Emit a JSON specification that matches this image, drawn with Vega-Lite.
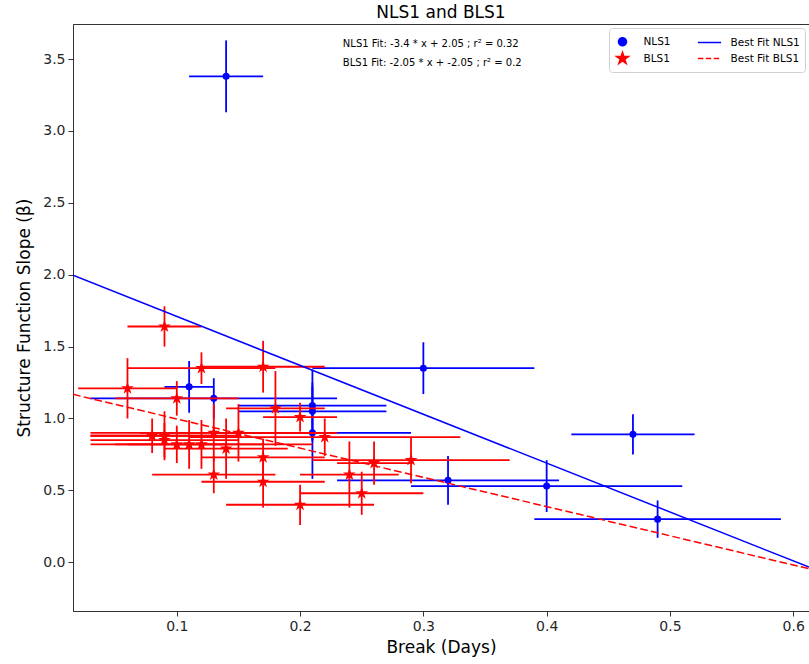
{
  "$schema": "https://vega.github.io/schema/vega-lite/v6.json",
  "width": 736,
  "height": 587,
  "autosize": {"type": "none"},
  "padding": {"left": 73, "top": 24, "right": 0, "bottom": 53},
  "background": "white",
  "title": {"text": "NLS1 and BLS1", "font": "DejaVu Sans", "fontSize": 17, "fontWeight": "normal", "color": "#000000", "anchor": "middle", "offset": 2},
  "config": {
    "view": {"stroke": "#333333", "strokeWidth": 1},
    "axis": {"labelFont": "DejaVu Sans", "labelFontSize": 14, "labelColor": "#262626", "titleFont": "DejaVu Sans", "titleFontSize": 17, "titleFontWeight": "normal", "titleColor": "#000000", "domainColor": "#333333", "tickColor": "#333333", "tickSize": 5, "labelPadding": 3, "grid": false}
  },
  "datasets": {
    "nls1": [
      {"grp": "NLS1", "x": 0.14, "y": 3.38, "xerr": 0.03, "yerr": 0.25},
      {"grp": "NLS1", "x": 0.11, "y": 1.22, "xerr": 0.02, "yerr": 0.18},
      {"grp": "NLS1", "x": 0.13, "y": 1.14, "xerr": 0.10, "yerr": 0.14},
      {"grp": "NLS1", "x": 0.21, "y": 1.09, "xerr": 0.06, "yerr": 0.25},
      {"grp": "NLS1", "x": 0.21, "y": 1.05, "xerr": 0.06, "yerr": 0.20},
      {"grp": "NLS1", "x": 0.21, "y": 0.90, "xerr": 0.08, "yerr": 0.32},
      {"grp": "NLS1", "x": 0.30, "y": 1.35, "xerr": 0.09, "yerr": 0.18},
      {"grp": "NLS1", "x": 0.32, "y": 0.57, "xerr": 0.09, "yerr": 0.17},
      {"grp": "NLS1", "x": 0.40, "y": 0.53, "xerr": 0.11, "yerr": 0.18},
      {"grp": "NLS1", "x": 0.47, "y": 0.89, "xerr": 0.05, "yerr": 0.14},
      {"grp": "NLS1", "x": 0.49, "y": 0.30, "xerr": 0.10, "yerr": 0.13}
    ],
    "bls1": [
      {"grp": "BLS1", "x": 0.09, "y": 1.64, "xerr": 0.03, "yerr": 0.14},
      {"grp": "BLS1", "x": 0.06, "y": 1.21, "xerr": 0.04, "yerr": 0.21},
      {"grp": "BLS1", "x": 0.12, "y": 1.35, "xerr": 0.06, "yerr": 0.11},
      {"grp": "BLS1", "x": 0.10, "y": 1.14, "xerr": 0.05, "yerr": 0.12},
      {"grp": "BLS1", "x": 0.17, "y": 1.36, "xerr": 0.05, "yerr": 0.18},
      {"grp": "BLS1", "x": 0.18, "y": 1.07, "xerr": 0.04, "yerr": 0.26},
      {"grp": "BLS1", "x": 0.20, "y": 1.01, "xerr": 0.03, "yerr": 0.10},
      {"grp": "BLS1", "x": 0.22, "y": 0.87, "xerr": 0.11, "yerr": 0.13},
      {"grp": "BLS1", "x": 0.29, "y": 0.71, "xerr": 0.08, "yerr": 0.16},
      {"grp": "BLS1", "x": 0.26, "y": 0.69, "xerr": 0.03, "yerr": 0.15},
      {"grp": "BLS1", "x": 0.25, "y": 0.48, "xerr": 0.05, "yerr": 0.15},
      {"grp": "BLS1", "x": 0.24, "y": 0.61, "xerr": 0.04, "yerr": 0.23},
      {"grp": "BLS1", "x": 0.20, "y": 0.40, "xerr": 0.06, "yerr": 0.14},
      {"grp": "BLS1", "x": 0.17, "y": 0.56, "xerr": 0.05, "yerr": 0.18},
      {"grp": "BLS1", "x": 0.17, "y": 0.73, "xerr": 0.05, "yerr": 0.13},
      {"grp": "BLS1", "x": 0.13, "y": 0.61, "xerr": 0.05, "yerr": 0.13},
      {"grp": "BLS1", "x": 0.15, "y": 0.90, "xerr": 0.08, "yerr": 0.20},
      {"grp": "BLS1", "x": 0.14, "y": 0.79, "xerr": 0.05, "yerr": 0.21},
      {"grp": "BLS1", "x": 0.13, "y": 0.90, "xerr": 0.10, "yerr": 0.20},
      {"grp": "BLS1", "x": 0.12, "y": 0.82, "xerr": 0.09, "yerr": 0.17},
      {"grp": "BLS1", "x": 0.11, "y": 0.82, "xerr": 0.06, "yerr": 0.17},
      {"grp": "BLS1", "x": 0.10, "y": 0.82, "xerr": 0.04, "yerr": 0.13},
      {"grp": "BLS1", "x": 0.09, "y": 0.88, "xerr": 0.06, "yerr": 0.17},
      {"grp": "BLS1", "x": 0.09, "y": 0.85, "xerr": 0.06, "yerr": 0.12},
      {"grp": "BLS1", "x": 0.08, "y": 0.88, "xerr": 0.05, "yerr": 0.12}
    ],
    "fitN": [
      {"grp": "Best Fit NLS1", "x": 0.0158, "y": 1.996},
      {"grp": "Best Fit NLS1", "x": 0.6128, "y": -0.034}
    ],
    "fitB": [
      {"grp": "Best Fit BLS1", "x": 0.0158, "y": 1.168},
      {"grp": "Best Fit BLS1", "x": 0.6128, "y": -0.045}
    ],
    "note1": [{"label": "NLS1 Fit: -3.4 * x + 2.05 ; r² = 0.32"}],
    "note2": [{"label": "BLS1 Fit: -2.05 * x + -2.05 ; r² = 0.2"}]
  },
  "layer": [
    {
      "encoding": {
        "x": {"field": "x", "type": "quantitative", "title": "Break (Days)", "scale": {"domain": [0.0158, 0.6128], "nice": false, "zero": false}, "axis": {"values": [0.1, 0.2, 0.3, 0.4, 0.5, 0.6], "format": ".1f", "titlePadding": 6}},
        "y": {"field": "y", "type": "quantitative", "title": "Structure Function Slope (β)", "scale": {"domain": [-0.339, 3.744], "nice": false, "zero": false}, "axis": {"values": [0, 0.5, 1, 1.5, 2, 2.5, 3, 3.5], "format": ".1f", "titlePadding": 9}},
        "color": {
          "field": "grp", "type": "nominal",
          "scale": {"domain": ["NLS1", "BLS1", "Best Fit NLS1", "Best Fit BLS1"], "range": ["#0000ff", "#ff0000", "#0000ff", "#ff0000"]},
          "legend": {
            "title": null, "orient": "none", "legendX": 536, "legendY": 4, "columns": 2,
            "strokeColor": "#d0d0d0", "fillColor": "#ffffff", "padding": 5, "cornerRadius": 3,
            "labelFont": "DejaVu Sans", "labelFontSize": 10.5, "labelColor": "#000000", "labelOffset": 12.5,
            "symbolSize": 240, "symbolStrokeWidth": 1.5, "rowPadding": 0, "columnPadding": 23,
            "encode": {"symbols": {"update": {
              "shape": {"signal": "datum.value === 'NLS1' ? 'M0.516,0A0.516,0.516 0 1,1 -0.516,0A0.516,0.516 0 1,1 0.516,0Z' : datum.value === 'BLS1' ? 'M0,-0.8L-0.18,-0.247L-0.761,-0.247L-0.29,0.094L-0.47,0.647L0,0.306L0.47,0.647L0.29,0.094L0.761,-0.247L0.18,-0.247Z' : 'M-1.5,0L1.5,0'"},
              "fill": {"signal": "datum.value === 'NLS1' ? '#0000ff' : datum.value === 'BLS1' ? '#ff0000' : 'transparent'"},
              "stroke": {"signal": "datum.value === 'Best Fit NLS1' ? '#0000ff' : datum.value === 'Best Fit BLS1' ? '#ff0000' : 'transparent'"},
              "strokeDash": {"signal": "datum.value === 'Best Fit BLS1' ? [5.5, 2.4] : [1, 0]"},
              "opacity": {"value": 1},
              "fillOpacity": {"value": 1},
              "strokeOpacity": {"value": 1}
            }}}
          }
        }
      },
      "layer": [
        {"data": {"name": "nls1"}, "mark": {"type": "errorbar", "thickness": 1.8}, "encoding": {"xError": {"field": "xerr"}}},
        {"data": {"name": "nls1"}, "mark": {"type": "errorbar", "thickness": 1.8}, "encoding": {"yError": {"field": "yerr"}}},
        {"data": {"name": "nls1"}, "mark": {"type": "point", "shape": "circle", "filled": true, "size": 50, "opacity": 1}},
        {"data": {"name": "bls1"}, "mark": {"type": "errorbar", "thickness": 1.8}, "encoding": {"xError": {"field": "xerr"}}},
        {"data": {"name": "bls1"}, "mark": {"type": "errorbar", "thickness": 1.8}, "encoding": {"yError": {"field": "yerr"}}},
        {"data": {"name": "bls1"}, "mark": {"type": "point", "shape": "M0,-1L-0.225,-0.309L-0.951,-0.309L-0.363,0.118L-0.588,0.809L0,0.382L0.588,0.809L0.363,0.118L0.951,-0.309L0.225,-0.309Z", "filled": true, "size": 180, "opacity": 1}},
        {"data": {"name": "fitN"}, "mark": {"type": "line", "strokeWidth": 1.5, "clip": true}},
        {"data": {"name": "fitB"}, "mark": {"type": "line", "strokeWidth": 1.5, "strokeDash": [7.7, 3.3], "clip": true}}
      ]
    },
    {"data": {"name": "note1"}, "mark": {"type": "text", "font": "DejaVu Sans", "fontSize": 10, "align": "left", "baseline": "middle", "color": "#000000"},
     "encoding": {"x": {"datum": 0.2347, "type": "quantitative"}, "y": {"datum": 3.607, "type": "quantitative"}, "text": {"field": "label"}}},
    {"data": {"name": "note2"}, "mark": {"type": "text", "font": "DejaVu Sans", "fontSize": 10, "align": "left", "baseline": "middle", "color": "#000000"},
     "encoding": {"x": {"datum": 0.2347, "type": "quantitative"}, "y": {"datum": 3.474, "type": "quantitative"}, "text": {"field": "label"}}}
  ]
}
